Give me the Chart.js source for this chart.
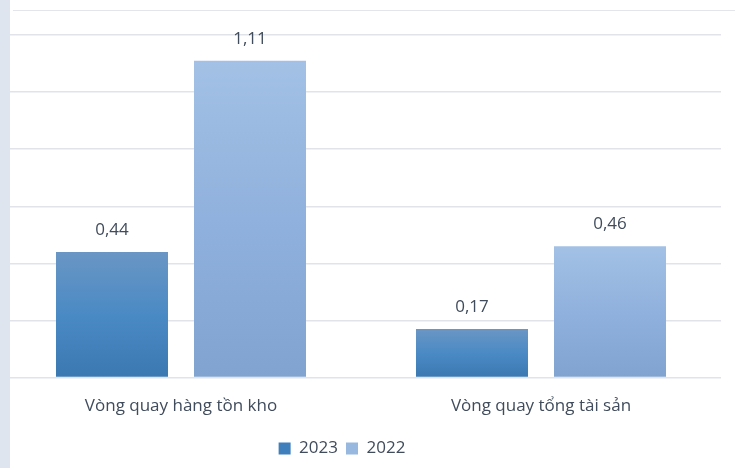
<!DOCTYPE html>
<html>
<head>
<meta charset="utf-8">
<script src="https://cdn.jsdelivr.net/npm/chart.js@4.4.0/dist/chart.umd.min.js"></script>
<style>
  html, body { margin: 0; padding: 0; background: #fff; }
  #wrap { position: relative; width: 735px; height: 468px; }
  #strip { position: absolute; left: 0; top: 0; width: 10px; height: 468px; background: #dfe5ef; }
  #topline { position: absolute; left: 13px; top: 10px; width: 722px; height: 1px; background: #e2e6ec; }
  canvas { position: absolute; left: 0; top: 0; }
</style>
</head>
<body>
<div id="wrap">
  <canvas id="turnover" width="735" height="468"></canvas>
  <div id="strip"></div>
  <div id="topline"></div>
</div>
<script>
var categories = ["Vòng quay hàng tồn kho", "Vòng quay tổng tài sản"];
var years = ["2023", "2022"];
var values2023 = [0.44, 0.17];
var values2022 = [1.11, 0.46];

var textColor = '#404c5c';
var fontFamily = '"Open Sans", Lato, sans-serif';

// vertical gradient running from the top of each bar down to the baseline
function barFill(top, mid, bottom) {
  return function (context) {
    var chart = context.chart;
    var y = chart.scales.y;
    if (context.type !== 'data' || !y || !chart.chartArea) return mid;
    var y0 = y.getPixelForValue(context.raw);
    var y1 = y.getPixelForValue(0);
    if (!isFinite(y0) || !isFinite(y1) || y0 === y1) return mid;
    var g = chart.ctx.createLinearGradient(0, y0, 0, y1);
    g.addColorStop(0, top);
    g.addColorStop(0.5, mid);
    g.addColorStop(1, bottom);
    return g;
  };
}

// value labels above each bar, decimal comma
var valueLabels = {
  id: 'valueLabels',
  afterDatasetsDraw: function (chart) {
    var ctx = chart.ctx;
    ctx.save();
    ctx.font = '17px ' + fontFamily;
    ctx.fillStyle = textColor;
    ctx.textAlign = 'center';
    ctx.textBaseline = 'middle';
    chart.data.datasets.forEach(function (ds, i) {
      chart.getDatasetMeta(i).data.forEach(function (bar, j) {
        var txt = ds.data[j].toFixed(2).replace('.', ',');
        ctx.fillText(txt, bar.x, bar.y - 22);
      });
    });
    ctx.restore();
  }
};

// legend sits a little left of centre
var legendShift = {
  id: 'legendShift',
  afterLayout: function (chart) {
    if (chart.legend) {
      chart.legend.left -= 19;
      chart.legend.right -= 19;
    }
  }
};

var turnover = document.getElementById("turnover");
var turnoverConfig = {
  type: 'bar',
  data: {
    labels: categories,
    datasets: [{
      label: years[0],
      data: values2023,
      backgroundColor: barFill('#6a96c4', '#4a8ac4', '#3b78b2'),
      legendColor: '#3f7fbc'
    }, {
      label: years[1],
      data: values2022,
      backgroundColor: barFill('#a3c1e5', '#90b1dd', '#80a3cf'),
      legendColor: '#98b8e0'
    }]
  },
  options: {
    responsive: false,
    animation: false,
    categoryPercentage: 0.7667,
    barPercentage: 0.8116,
    layout: { padding: { top: 35, right: 14, left: 1, bottom: 1 } },
    plugins: {
      tooltip: { enabled: false },
      legend: {
        position: 'bottom',
        labels: {
          color: textColor,
          font: { size: 17, family: fontFamily },
          boxWidth: 12,
          boxHeight: 12,
          padding: 8,
          generateLabels: function (chart) {
            return chart.data.datasets.map(function (ds, i) {
              return {
                text: ds.label,
                fillStyle: ds.legendColor,
                strokeStyle: ds.legendColor,
                lineWidth: 0,
                fontColor: textColor,
                datasetIndex: i
              };
            });
          }
        }
      }
    },
    scales: {
      x: {
        grid: { display: false },
        border: { display: false },
        ticks: {
          color: textColor,
          font: { size: 17, family: fontFamily },
          padding: 10
        },
        afterFit: function (scale) {
          scale.height += 6;
        }
      },
      y: {
        min: 0,
        max: 1.2,
        ticks: { display: false, stepSize: 0.2 },
        grid: { color: '#e0e4ea', lineWidth: 1.5, drawTicks: false },
        border: { display: false }
      }
    }
  },
  plugins: [valueLabels, legendShift]
};
var turnoverObj = new Chart(turnover, turnoverConfig);
</script>
</body>
</html>
